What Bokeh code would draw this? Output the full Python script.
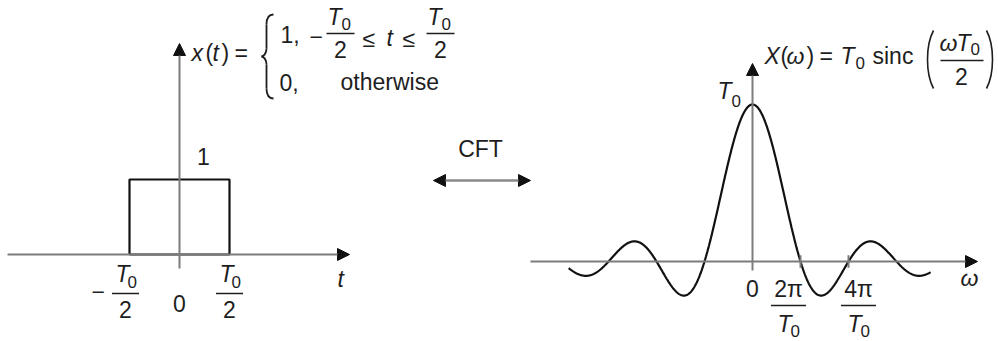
import numpy as np
from bokeh.plotting import figure
from bokeh.models import Range1d, Arrow, NormalHead
from bokeh.core.properties import value
from bokeh.embed import file_html
from bokeh.resources import INLINE

# ---- data -------------------------------------------------------------
T0 = 1.0                                  # pulse width
pulse_edges = [-T0 / 2, T0 / 2]           # x(t) = 1 between these instants
pulse_height = 1.0
omega_view = [-3.83 * 2 * np.pi / T0, 3.71 * 2 * np.pi / T0]   # span of the drawn spectrum
omega_ticks = [2 * np.pi / T0, 4 * np.pi / T0]
omega_tick_nums = ["2π", "4π"]

# ---- layout ------------------------------------------------------------
W, H = 998, 341
FONT = "Liberation Sans"
INK = "#1e1e1e"
AXIS = "#7c7c7c"
MAIN = 23
SUB = 17

t_org, t_sx, t_sy = (179, 254), 100.0, 75.0              # px per unit of t and x(t)
w_org, w_sx, w_sy = (752, 261), 48.0 / (2 * np.pi / T0), 157.0 / T0
omega_label_shift = [-12, 10]                             # fraction labels sit beside their ticks

p = figure(width=W, height=H, output_backend="svg", toolbar_location=None,
           x_axis_location=None, y_axis_location=None,
           x_range=Range1d(0, W), y_range=Range1d(H, 0), min_border=0)
p.outline_line_color = None
p.grid.visible = False
p.background_fill_color = "white"
p.border_fill_color = "white"

p.extra_x_ranges = {
    "t": Range1d(-t_org[0] / t_sx, (W - t_org[0]) / t_sx),
    "w": Range1d(-w_org[0] / w_sx, (W - w_org[0]) / w_sx),
}
p.extra_y_ranges = {
    "xt": Range1d(-(H - t_org[1]) / t_sy, t_org[1] / t_sy),
    "Xw": Range1d(-(H - w_org[1]) / w_sy, w_org[1] / w_sy),
}


def label(s, x, y, size=MAIN, italic=False, align="left", xr="default", dx=0):
    # y is the baseline in screen pixels; the renderer places glyphs a bit low
    p.text(x=[x], y=[y], text=[s], x_offset=dx, y_offset=-0.4 * size,
           text_font=value(FONT), text_font_size=f"{size}px",
           text_font_style="italic" if italic else "normal",
           text_align=align, text_baseline="alphabetic", text_color=INK,
           x_range_name=xr)


def bar(x, y, width, xr="default"):
    # fraction bar, width in screen pixels
    p.rect(x=[x], y=[y], width=width, height=1.6, width_units="screen",
           height_units="screen", fill_color=INK, line_color=None, x_range_name=xr)


def axis_arrow(x0, y0, x1, y1, both=False, color=AXIS, lw=2.0):
    head = dict(size=12, fill_color="#111111", line_color="#111111", line_width=1)
    p.add_layout(Arrow(x_start=x0, y_start=y0, x_end=x1, y_end=y1,
                       line_color=color, line_width=lw,
                       start=NormalHead(**head) if both else None,
                       end=NormalHead(**head)))


# ---- left panel: rectangular pulse ------------------------------------
axis_arrow(7, 254, 349, 254)
axis_arrow(179, 268, 179, 43)

a, b = pulse_edges
p.line([a, a, b, b, a], [0, pulse_height, pulse_height, 0, 0],
       line_color="#111111", line_width=2.2,
       x_range_name="t", y_range_name="xt")

label("1", 203, 165, align="center")

# tick labels  -T0/2, 0, T0/2
for edge, sign in zip(pulse_edges, ["−", ""]):
    dx = -4 if sign else 0
    label("T", edge, 283, italic=True, xr="t", dx=dx - 10)
    label("0", edge, 288, size=SUB, xr="t", dx=dx + 2)
    bar(edge + dx / t_sx, 293, 27, xr="t")
    label("2", edge, 318, align="center", xr="t", dx=dx)
    if sign:
        label(sign, edge, 300, xr="t", dx=-38)
label("0", 0, 312, align="center", xr="t")
label("t", 337, 288, italic=True)

# definition of x(t)
label("x", 191, 62, italic=True)
label("(", 205, 62)
label("t", 212, 62, italic=True)
label(")", 221, 62)
label("=", 234, 62)
p.bezier(x0=[273, 266, 261, 266], y0=[14, 48, 56, 88],
         x1=[266, 261, 266, 273], y1=[24, 56, 64, 98],
         cx0=[268, 266, 263, 266], cy0=[14, 53, 56, 94],
         cx1=[266, 263, 266, 268], cy1=[18, 56, 59, 98],
         line_color=INK, line_width=1.8)
p.segment(x0=[266, 266], y0=[24, 64], x1=[266, 266], y1=[48, 88],
          line_color=INK, line_width=1.8)
label("1,", 280, 43)
label("−", 309, 45)
for cx in (340, 440):
    label("T", cx - 13, 26, italic=True)
    label("0", cx + 1, 30, size=SUB)
    bar(cx, 33, 28)
    label("2", cx, 58, align="center")
label("≤", 362, 48)
label("t", 386, 47, italic=True)
label("≤", 402, 48)
label("0,", 279, 91)
label("otherwise", 340, 91)

# ---- transform pair arrow ---------------------------------------------
label("CFT", 480, 158, align="center")
axis_arrow(433, 180, 530, 180, both=True, color="#8a8a8a", lw=2.6)

# ---- right panel: sinc spectrum ---------------------------------------
axis_arrow(530, 261, 977, 261)
axis_arrow(752, 270, 752, 63)

omega = np.linspace(omega_view[0], omega_view[1], 800)
X = T0 * np.sinc(omega * T0 / (2 * np.pi))      # T0 sinc(omega T0 / 2)
p.line(omega, X, line_color="#111111", line_width=2.2,
       x_range_name="w", y_range_name="Xw")

p.segment(x0=omega_ticks, y0=[-0.04] * 2, x1=omega_ticks, y1=[0.04] * 2,
          line_color=AXIS, line_width=2, x_range_name="w", y_range_name="Xw")

label("T", 717, 100, italic=True)
label("0", 731, 107, size=SUB)

label("0", 0, 297, align="center", xr="w")
for wt, num, sh in zip(omega_ticks, omega_tick_nums, omega_label_shift):
    label(num, wt, 298, align="center", xr="w", dx=sh)
    bar(wt + sh / w_sx, 305, 35, xr="w")
    label("T", wt, 333, italic=True, xr="w", dx=sh - 11)
    label("0", wt, 337, size=SUB, xr="w", dx=sh + 2)
label("ω", 960, 287, italic=True)

# X(omega) = T0 sinc(omega T0 / 2)
label("X", 764, 65, italic=True)
label("(", 780, 65)
label("ω", 786, 65, italic=True)
label(")", 806, 65)
label("=", 819, 65)
label("T", 840, 65, italic=True)
label("0", 855, 69, size=SUB)
label("sinc", 872, 65)
p.bezier(x0=[933, 986], y0=[30, 30], x1=[933, 986], y1=[88, 88],
         cx0=[925, 994], cy0=[45, 45], cx1=[925, 994], cy1=[73, 73],
         line_color=INK, line_width=1.6)
label("ω", 939, 52, italic=True)
label("T", 956, 52, italic=True)
label("0", 970, 55, size=SUB)
bar(961.5, 60, 43)
label("2", 961, 85, align="center")

open("out.html", "w").write(file_html(p, INLINE))
